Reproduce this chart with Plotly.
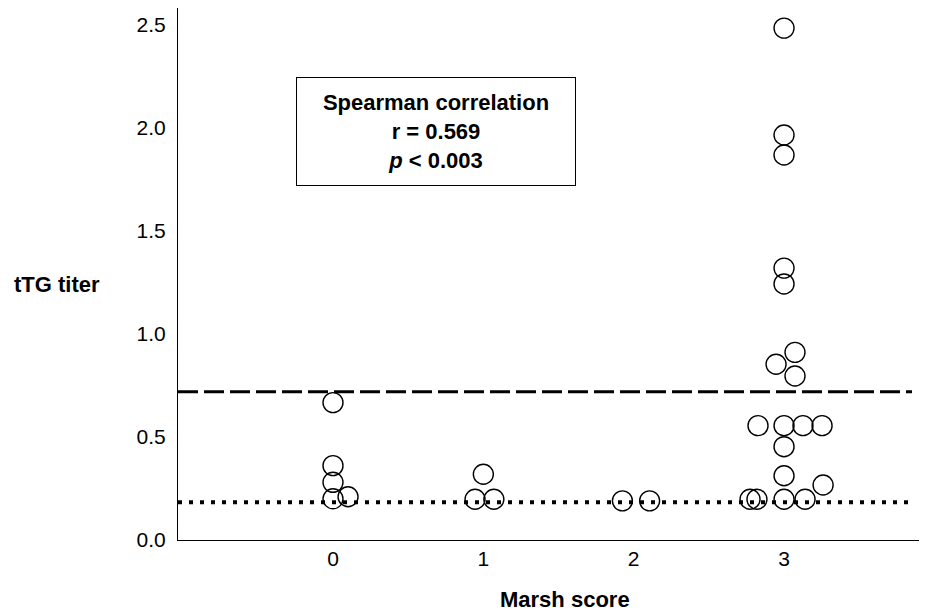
import plotly.graph_objects as go

# ---- data ----
marsh_score = [0, 0, 0, 0, 0,
               1, 1, 1,
               2, 2,
               3, 3, 3, 3, 3, 3, 3, 3, 3, 3, 3, 3, 3, 3, 3, 3, 3, 3, 3]
ttg_titer = [0.667, 0.361, 0.28, 0.20, 0.21,
             0.319, 0.198, 0.198,
             0.19, 0.19,
             2.485, 1.966, 1.869, 1.32, 1.243, 0.911, 0.853, 0.796,
             0.555, 0.555, 0.555, 0.555, 0.453, 0.312, 0.267,
             0.198, 0.198, 0.198, 0.198]
# horizontal spread of overlapping points (in category units)
x_spread = [0, 0, 0, 0, 0.1,
            0, -0.055, 0.07,
            -0.075, 0.106,
            0, 0, 0, 0, 0, 0.073, -0.053, 0.073,
            -0.173, 0, 0.126, 0.253, 0, 0, 0.26,
            -0.226, -0.18, 0, 0.14]
x_ticks = [0, 1, 2, 3]
x_tick_labels = ["0", "1", "2", "3"]
y_ticks = [0, 0.5, 1.0, 1.5, 2.0, 2.5]
y_tick_labels = ["0.0", "0.5", "1.0", "1.5", "2.0", "2.5"]
cutoff_high = 0.72
cutoff_low = 0.183
stats_text = "Spearman correlation<br>r = 0.569<br><i>p</i> < 0.003"

FONT = "Liberation Sans, Arial, Helvetica, sans-serif"

x_plot = [m + d for m, d in zip(marsh_score, x_spread)]

fig = go.Figure()
fig.add_trace(go.Scatter(
    x=x_plot, y=ttg_titer, mode="markers",
    marker=dict(symbol="circle-open", size=20, color="black",
                line=dict(width=1.4, color="black")),
    showlegend=False, hoverinfo="skip"))

x_lo, x_hi = -1.031, 3.951
line_end = 3.851
y_hi = 532 / 206

fig.add_shape(type="line", xref="x", yref="y", x0=x_lo, x1=line_end,
              y0=cutoff_high, y1=cutoff_high,
              line=dict(color="black", width=3, dash="20px,6px"))
fig.add_shape(type="line", xref="x", yref="y", x0=x_lo, x1=line_end,
              y0=cutoff_low, y1=cutoff_low,
              line=dict(color="black", width=4, dash="4px,7px"))

fig.add_annotation(x=0.685, y=1.983, xref="x", yref="y", text="<b>" + stats_text + "</b>",
                   showarrow=False, align="center", valign="middle",
                   width=278, height=107, bordercolor="black", borderwidth=1,
                   borderpad=0, bgcolor="white",
                   font=dict(family=FONT, size=22, color="black"))
fig.add_annotation(x=-0.1615, y=1.238, xref="paper", yref="y", text="<b>tTG titer</b>",
                   showarrow=False, xanchor="center", yanchor="middle",
                   font=dict(family=FONT, size=22, color="black"))
fig.add_annotation(x=1.543, y=-0.111, xref="x", yref="paper", text="<b>Marsh score</b>",
                   showarrow=False, xanchor="center", yanchor="middle",
                   font=dict(family=FONT, size=22, color="black"))

fig.update_layout(
    width=919, height=605,
    margin=dict(l=170, r=0, t=0, b=73),
    paper_bgcolor="white", plot_bgcolor="white",
    font=dict(family=FONT, size=21, color="black"),
    xaxis=dict(range=[x_lo, x_hi], tickvals=x_ticks, ticktext=x_tick_labels,
               showline=True, linecolor="black", linewidth=1.2, ticks="",
               showgrid=False, zeroline=False, ticklabelstandoff=0),
    yaxis=dict(range=[0, y_hi], tickvals=y_ticks, ticktext=y_tick_labels,
               showline=True, linecolor="black", linewidth=1.2, ticks="",
               showgrid=False, zeroline=False, ticklabelstandoff=7),
)

fig.write_html("out.html")
